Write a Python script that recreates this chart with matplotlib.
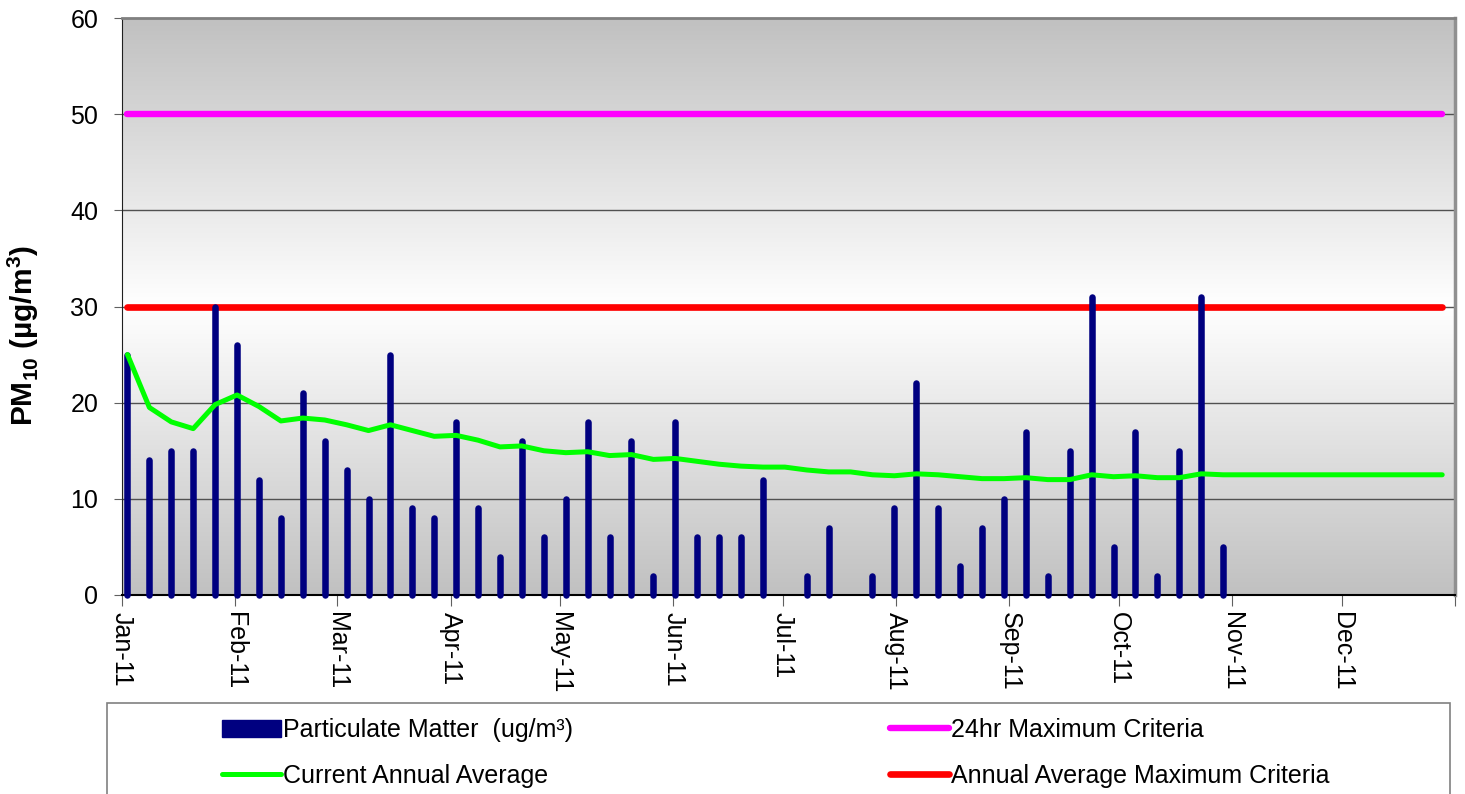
import numpy as np
import pandas as pd
import matplotlib
matplotlib.use("Agg")
import matplotlib.pyplot as plt
from matplotlib.patches import Patch, Rectangle
from matplotlib.lines import Line2D

plt.rcParams['font.family'] = ['Liberation Sans', 'DejaVu Sans']
plt.rcParams['mathtext.fontset'] = 'custom'
plt.rcParams['mathtext.bf'] = 'Liberation Sans:bold'
plt.rcParams['mathtext.rm'] = 'Liberation Sans'

# samples every 6 days from 2 Jan 2011 (plotted mid-day, like the original)
first_sample = '2011-01-02 12:00'
sample_step = '6D'

# PM10 readings (ug/m3), nan = no sample
pm10 = [25, 14, 15, 15, 30, 26, 12, 8, 21, 16,
        13, 10, 25, 9, 8, 18, 9, 4, 16, 6,
        10, 18, 6, 16, 2, 18, 6, 6, 6, 12,
        np.nan, 2, 7, np.nan, 2, 9, 22, 9, 3, 7,
        10, 17, 2, 15, 31, 5, 17, 2, 15, 31,
        5]

# running annual average (carried to end of year)
annual_avg = [25.0, 19.5, 18.0, 17.3, 19.8, 20.8, 19.6, 18.1, 18.4, 18.2,
              17.7, 17.1, 17.7, 17.1, 16.5, 16.6, 16.1, 15.4, 15.5, 15.0,
              14.8, 14.9, 14.5, 14.6, 14.1, 14.2, 13.9, 13.6, 13.4, 13.3,
              13.3, 13.0, 12.8, 12.8, 12.5, 12.4, 12.6, 12.5, 12.3, 12.1,
              12.1, 12.2, 12.0, 12.0, 12.5, 12.3, 12.4, 12.2, 12.2, 12.6,
              12.5, 12.5, 12.5, 12.5, 12.5, 12.5, 12.5, 12.5, 12.5, 12.5,
              12.5]

max_24hr = 50
max_annual = 30

month_starts = ['2011-01-01', '2011-02-01', '2011-03-01', '2011-04-01',
                '2011-05-01', '2011-06-01', '2011-07-01', '2011-08-01',
                '2011-09-01', '2011-10-01', '2011-11-01', '2011-12-01',
                '2012-01-01']
month_labels = ['Jan-11', 'Feb-11', 'Mar-11', 'Apr-11', 'May-11', 'Jun-11',
                'Jul-11', 'Aug-11', 'Sep-11', 'Oct-11', 'Nov-11', 'Dec-11', '']

line_dates = pd.date_range(first_sample, periods=len(annual_avg), freq=sample_step).to_pydatetime()
pm_dates = line_dates[:len(pm10)]
pm = np.array(pm10, dtype=float)
ok = ~np.isnan(pm)

fig = plt.figure(figsize=(14.65, 7.94), dpi=100)
ax = fig.add_axes([122 / 1465, 1 - 595 / 794, 1333 / 1465, 577 / 794])

navy = '#000080'
ax.plot(line_dates, [max_24hr] * len(line_dates), color='#ff00ff', lw=4.6,
        solid_capstyle='round', zorder=2)
ax.plot(line_dates, [max_annual] * len(line_dates), color='#ff0000', lw=4.8,
        solid_capstyle='round', zorder=2)
bars = ax.vlines(pm_dates[ok], 0, pm[ok], colors=navy, linewidths=4.7,
                 zorder=3, clip_on=False)
bars.set_capstyle('round')
ax.plot(line_dates, annual_avg, color='#00ff00', lw=3.6,
        solid_capstyle='round', solid_joinstyle='round', zorder=4)

# grey-white-grey background
t = np.linspace(0, 1, 256)
v = 1 - np.abs(t - 0.5) * 2
g = 0.755 + (1 - 0.755) * v
grad = np.stack([g, g, g], axis=-1)[:, None, :].repeat(2, axis=1)
ax.imshow(grad, extent=[0, 1, 0, 1], transform=ax.transAxes, origin='lower',
          aspect='auto', zorder=0, interpolation='bilinear')

ax.set_xlim(pd.Timestamp('2011-01-01'), pd.Timestamp('2012-01-01'))
ax.set_ylim(0, 60)
ax.set_yticks(range(0, 61, 10))
ax.set_xticks(pd.to_datetime(month_starts))
ax.set_xticklabels(month_labels, rotation=-90, fontsize=18)
ax.tick_params(axis='y', labelsize=18, length=6, pad=11, color='#606060')
ax.tick_params(axis='x', length=8, pad=4, color='#606060')

for yv in range(10, 60, 10):
    ax.axhline(yv, color='#505050', lw=1, zorder=1)

ax.spines['left'].set_color('#202020')
ax.spines['bottom'].set_color('#000000')
ax.spines['bottom'].set_linewidth(1.5)
ax.spines['top'].set_color('#808080')
ax.spines['top'].set_linewidth(2)
ax.spines['right'].set_color('#909090')
ax.spines['right'].set_linewidth(2.5)

ax.set_ylabel(r'PM$_{\mathbf{10}}$ (µg/m$^{\mathbf{3}}$)', fontsize=21.5,
              fontweight='bold')
ax.yaxis.set_label_coords(-0.061, 0.45)

# legend box, bottom edge runs off the picture
fig.patches.append(Rectangle((107 / 1465, -0.05), (1450 - 107) / 1465,
                             1 - 703 / 794 + 0.05, transform=fig.transFigure,
                             fill=False, edgecolor='#808080', lw=1.2))

h_pm = Patch(facecolor=navy, edgecolor=navy)
h_avg = Line2D([], [], color='#00ff00', lw=3.6, solid_capstyle='round')
h_24 = Line2D([], [], color='#ff00ff', lw=4.6, solid_capstyle='round')
h_ann = Line2D([], [], color='#ff0000', lw=4.8, solid_capstyle='round')

leg_kw = dict(loc='upper left', frameon=False, fontsize=18, borderpad=0,
              borderaxespad=0, handlelength=2.35, handletextpad=0.1,
              labelspacing=0.86)
fig.legend([h_pm, h_avg], ['Particulate Matter  (ug/m³)', 'Current Annual Average'],
           bbox_to_anchor=(222 / 1465, 1 - 718 / 794), **leg_kw)
fig.legend([h_24, h_ann], ['24hr Maximum Criteria', 'Annual Average Maximum Criteria'],
           bbox_to_anchor=(890 / 1465, 1 - 718 / 794), **leg_kw)

fig.savefig('out.png', dpi=100)
